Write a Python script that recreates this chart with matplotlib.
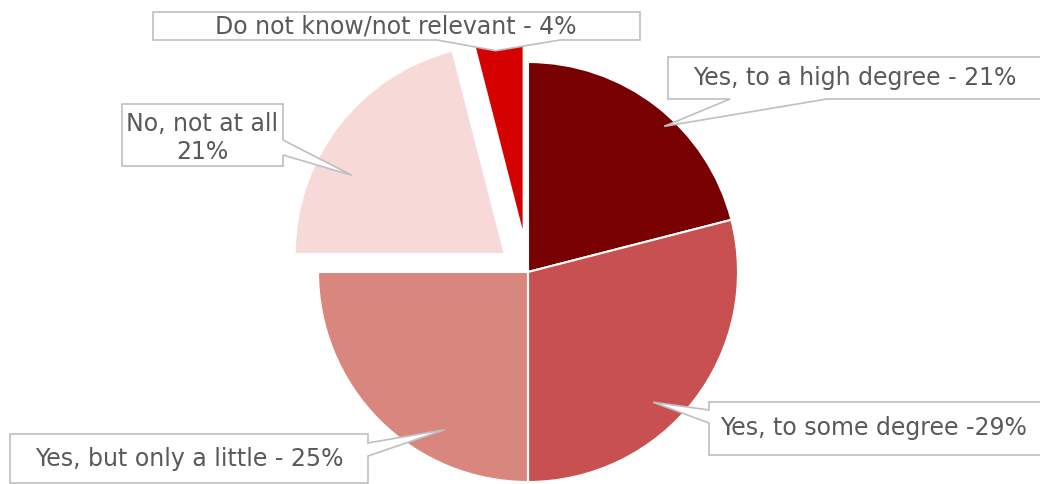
import matplotlib
matplotlib.use("Agg")
import matplotlib.pyplot as plt
import numpy as np
from matplotlib.patches import Polygon

# Survey answers, clockwise from 12 o'clock
labels = [
    "Yes, to a high degree - 21%",
    "Yes, to some degree -29%",
    "Yes, but only a little - 25%",
    "No, not at all\n21%",
    "Do not know/not relevant - 4%",
]
shares = [21, 29, 25, 21, 4]
colors = ["#780000", "#C85050", "#D9877E", "#F7D9D8", "#D50000"]
explode = [0, 0, 0, 0.14, 0.165]  # fraction of the radius

W, H = 1040, 484
fig = plt.figure(figsize=(W / 100, H / 100), dpi=100)
ax = fig.add_axes([0, 0, 1, 1])

center = (528, 212)
radius = 210
# pie() offsets exploded wedges in data units, so scale by the radius
wedges, _ = ax.pie(shares, colors=colors,
                   explode=[e * radius for e in explode], startangle=90,
                   counterclock=False, center=center, radius=radius,
                   wedgeprops=dict(edgecolor="white", linewidth=1.5),
                   frame=True)
ax.set_xlim(0, W)
ax.set_ylim(0, H)
ax.set_aspect("equal")
ax.axis("off")

# callout boxes: (x0, y0, x1, y1), side of the pointer, pointer base span,
# text centre, and where in the wedge the pointer ends (angle frac, radius frac)
callouts = [
    ((668, 385, 1050, 427), "bottom", (730, 827), (855, 406), (0.43, 0.95)),
    ((709, 29, 1050, 82), "left", (61, 74), (874, 56), (0.42, 0.86)),
    ((10, 1, 368, 50), "right", (28, 41), (189, 25), (0.69, 0.85)),
    ((122, 318, 283, 380), "right", (329, 344), (202, 346), (0.64, 0.82)),
    ((153, 444, 640, 472), "bottom", (437, 560), (396, 458), (0.59, 0.90)),
]


def wedge_point(w, ft, fr):
    t1, t2 = w.theta1, w.theta2
    if t2 < t1:
        t2 += 360
    ang = np.deg2rad(t1 + ft * (t2 - t1))
    cx, cy = w.center
    return cx + fr * w.r * np.cos(ang), cy + fr * w.r * np.sin(ang)


for w, text, (box, side, base, tpos, (ft, fr)) in zip(wedges, labels, callouts):
    x0, y0, x1, y1 = box
    tip = wedge_point(w, ft, fr)
    a, b = base
    if side == "bottom":
        pts = [(x0, y0), (a, y0), tip, (b, y0), (x1, y0), (x1, y1), (x0, y1)]
    elif side == "right":
        pts = [(x0, y0), (x1, y0), (x1, a), tip, (x1, b), (x1, y1), (x0, y1)]
    else:
        pts = [(x0, y0), (x1, y0), (x1, y1), (x0, y1), (x0, b), tip, (x0, a)]
    ax.add_patch(Polygon(pts, closed=True, facecolor="white",
                         edgecolor="#BFBFBF", linewidth=1.2, zorder=5))
    ax.text(tpos[0], tpos[1], text, ha="center", va="center",
            fontsize=17, color="#595959", family="DejaVu Sans",
            linespacing=1.2, zorder=6)

fig.savefig("out.png", dpi=100)
